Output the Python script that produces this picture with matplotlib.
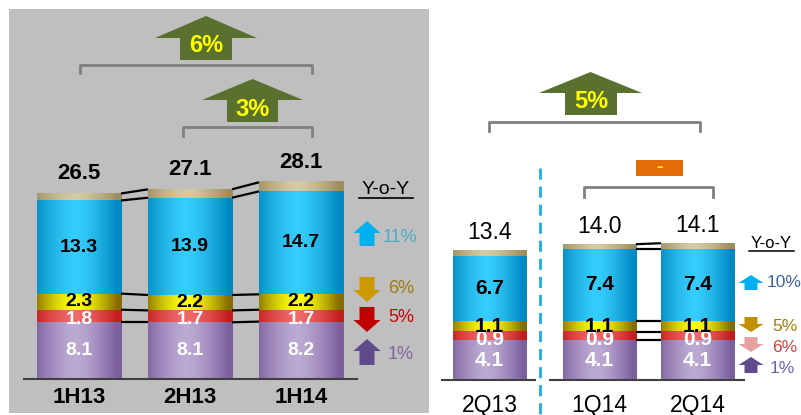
import numpy as np
import matplotlib
matplotlib.use("Agg")
import matplotlib.pyplot as plt
from matplotlib.patches import Polygon, Rectangle
from matplotlib.colors import to_rgb

plt.rcParams['font.family'] = ['Liberation Sans', 'DejaVu Sans']

# half-year data (bottom -> top)
half_labels = ['1H13', '2H13', '1H14']
half_purple = [8.1, 8.1, 8.2]
half_red = [1.8, 1.7, 1.7]
half_yellow = [2.3, 2.2, 2.2]
half_blue = [13.3, 13.9, 14.7]
half_other = [1.0, 1.2, 1.3]
half_total = [26.5, 27.1, 28.1]
half_yoy = ['11%', '6%', '5%', '1%']
half_growth = ['6%', '3%']

# quarter data
q_labels = ['2Q13', '1Q14', '2Q14']
q_purple = [4.1, 4.1, 4.1]
q_red = [0.9, 0.9, 0.9]
q_yellow = [1.1, 1.1, 1.1]
q_blue = [6.7, 7.4, 7.4]
q_other = [0.6, 0.5, 0.6]
q_total = [13.4, 14.0, 14.1]
q_yoy = ['10%', '5%', '6%', '1%']
q_growth = ['5%', '-']

# (edge, centre) colours of the cylinder shading, bottom -> top
shades = [('#7b5f9e', '#bcaad3'),
          ('#c41c1c', '#f06a6a'),
          ('#866c00', '#ffff10'),
          ('#0088c2', '#35cdfb'),
          ('#9c8d5c', '#d3cba4')]
label_colors = ['white', 'white', 'black', 'black']

W, H = 801, 415
fig = plt.figure(figsize=(W / 100, H / 100), dpi=100)


def pix_axes(x0, y0, x1, y1):
    return fig.add_axes([x0 / W, 1 - y1 / H, (x1 - x0) / W, (y1 - y0) / H])


def cylinder(ax, patches, edge, centre):
    e = np.array(to_rgb(edge))
    c = np.array(to_rgb(centre))
    t = np.linspace(-1, 1, 80)
    f = np.clip(1 - np.abs(t + 0.1) ** 1.5, 0, 1)
    img = (e + (c - e) * f[:, None])[None, :, :]
    for p in patches:
        x0, y0 = p.get_x(), p.get_y()
        ax.imshow(img, extent=[x0, x0 + p.get_width(), y0, y0 + p.get_height()],
                  aspect='auto', interpolation='bilinear', zorder=2)


def draw_stack(ax, x, layers, width):
    bottom = np.zeros(len(x))
    tops = []
    for vals, (edge, centre) in zip(layers, shades):
        b = ax.bar(x, vals, width, bottom=bottom, color=centre, linewidth=0, zorder=1)
        cylinder(ax, b.patches, edge, centre)
        bottom = bottom + np.array(vals)
        tops.append(bottom.copy())
    return tops


def connect(ax, x, tops, width, i, j):
    for lev in tops:
        ax.plot([x[i] + width / 2, x[j] - width / 2], [lev[i], lev[j]],
                color='black', lw=1.6, zorder=3, solid_capstyle='butt')


def seg_labels(ax, x, layers, fs, red_shift):
    bottom = np.zeros(len(x))
    for k, vals in enumerate(layers[:4]):
        for xi, b, v in zip(x, bottom, vals):
            y = b + v / 2 - (red_shift if k == 1 else 0)
            ax.text(xi, y, f'{v:.1f}', ha='center', va='center', fontsize=fs,
                    fontweight='bold', color=label_colors[k], zorder=4)
        bottom = bottom + np.array(vals)


# ---------------- left panel (half years) ----------------
axL = pix_axes(9, 9, 429, 413)
axL.set_facecolor('#bfbfbf')
for s in axL.spines.values():
    s.set_visible(False)
axL.set_xticks([])
axL.set_yticks([])
xL = np.arange(3)
wL = 0.757
layersL = [half_purple, half_red, half_yellow, half_blue, half_other]
topsL = draw_stack(axL, xL, layersL, wL)
connect(axL, xL, topsL, wL, 0, 1)
connect(axL, xL, topsL, wL, 1, 2)
seg_labels(axL, xL, layersL, 14, 0.5)
for xi, tot, lab in zip(xL, half_total, half_labels):
    axL.text(xi, tot + 2.8, f'{tot:.1f}', ha='center', va='center',
             fontsize=16, fontweight='bold')
    axL.text(xi, -2.7, lab, ha='center', va='center', fontsize=16, fontweight='bold')
axL.plot([xL[0] - wL / 2 - 0.12, xL[-1] + wL / 2 + 0.13], [0, 0], color='#404040', lw=1.5, zorder=3)
axL.set_xlim((9 - 79) / 111, (429 - 79) / 111)
axL.set_ylim((379 - 413) / 7.0, (379 - 9) / 7.0)

# ---------------- right panel (quarters) ----------------
axR = pix_axes(440, 9, 801, 413)
axR.axis('off')
xR = np.array([0, 1.122, 2.122])
wR = 0.745
layersR = [q_purple, q_red, q_yellow, q_blue, q_other]
topsR = draw_stack(axR, xR, layersR, wR)
connect(axR, xR, topsR, wR, 1, 2)
seg_labels(axR, xR, layersR, 15, 0.35)
for xi, tot, lab in zip(xR, q_total, q_labels):
    axR.text(xi, tot + 1.8, f'{tot:.1f}', ha='center', va='center', fontsize=16.5)
    axR.text(xi, -2.6, lab, ha='center', va='center', fontsize=16.5)
axR.plot([xR[0] - wR / 2 - 0.11, xR[0] + wR / 2 + 0.09], [0, 0], color='#404040', lw=1.5)
axR.plot([xR[1] - wR / 2 - 0.13, xR[2] + wR / 2 + 0.1], [0, 0], color='#404040', lw=1.5)
axR.set_xlim((440 - 489.5) / 98, (801 - 489.5) / 98)
axR.set_ylim((380 - 413) / 9.7, (380 - 9) / 9.7)

# ---------------- annotations (pixel coordinates) ----------------
ov = fig.add_axes([0, 0, 1, 1])
ov.set_xlim(0, W)
ov.set_ylim(H, 0)
ov.axis('off')

GREEN = '#5a702f'
GREY = '#808080'


def big_arrow(xl, xr, ytop, yhead, sxl, sxr, ybot, text, ty):
    pts = [(xl, yhead), ((xl + xr) / 2, ytop), (xr, yhead), (sxr, yhead),
           (sxr, ybot), (sxl, ybot), (sxl, yhead)]
    ov.add_patch(Polygon(pts, closed=True, color=GREEN, lw=0))
    ov.text((sxl + sxr) / 2, ty, text, ha='center', va='center', fontsize=17,
            fontweight='bold', color='#ffff00')


def bracket(x0, x1, ytop, ybot):
    ov.plot([x0, x0, x1, x1], [ybot, ytop, ytop, ybot], color=GREY, lw=2)


def block(xc, ytop, ybot, hw, sw, hl, up, color):
    if up:
        yh = ytop + hl
        pts = [(xc - hw / 2, yh), (xc, ytop), (xc + hw / 2, yh), (xc + sw / 2, yh),
               (xc + sw / 2, ybot), (xc - sw / 2, ybot), (xc - sw / 2, yh)]
    else:
        yh = ybot - hl
        pts = [(xc - hw / 2, yh), (xc, ybot), (xc + hw / 2, yh), (xc + sw / 2, yh),
               (xc + sw / 2, ytop), (xc - sw / 2, ytop), (xc - sw / 2, yh)]
    ov.add_patch(Polygon(pts, closed=True, color=color, lw=0))


# left growth arrows
big_arrow(155, 257, 16, 38, 180, 232, 60, half_growth[0], 45)
bracket(80, 312, 65, 73)
big_arrow(202, 303, 79, 100, 227, 278, 122, half_growth[1], 109)
bracket(183, 312, 127, 136)

# left Y-o-Y legend
ov.text(386, 189, 'Y-o-Y', ha='center', va='center', fontsize=14)
ov.plot([359, 413], [198, 198], color='black', lw=1.2)
arrL = [(221, 246, True, '#00b0f0', '#4bacc6', 237),
        (277, 302, False, '#cc9900', '#a07a10', 288),
        (307, 332, False, '#c00000', '#cc0000', 317),
        (339, 365, True, '#5f4b8b', '#8064a2', 354)]
for (yt, yb, up, ac, tc, ty), lab in zip(arrL, half_yoy):
    block(367, yt, yb, 27, 15, 12, up, ac)
    ov.text(383 if lab == '11%' else 388, ty, lab, ha='left', va='center',
            fontsize=13, color=tc)

# right growth arrows
big_arrow(539, 642, 72, 93, 565, 617, 115, q_growth[0], 101)
bracket(489, 700, 122, 131)
ov.add_patch(Rectangle((636, 160), 47, 16, color='#e36c09', lw=0))
ov.text(659.5, 167, q_growth[1], ha='center', va='center', fontsize=14,
        fontweight='bold', color='#ffff00')
bracket(584, 713, 187, 197)

# divider
ov.plot([540, 540], [168, 415], color='#1aaee5', lw=2, dashes=(4, 2.5))

# right Y-o-Y legend
ov.text(771, 243, 'Y-o-Y', ha='center', va='center', fontsize=12)
ov.plot([749, 794], [251, 251], color='black', lw=1.1)
arrR = [(275, 290, True, '#00b0f0', '#3f62a4', 282, 767),
        (317, 332, False, '#c09000', '#a07a10', 326, 772),
        (337, 352, False, '#e6a0a0', '#d04040', 347, 772),
        (357, 373, True, '#5f4b8b', '#7060b0', 368, 770)]
for (yt, yb, up, ac, tc, ty, tx), lab in zip(arrR, q_yoy):
    block(751, yt, yb, 25, 13, 8, up, ac)
    ov.text(tx, ty, lab, ha='left', va='center', fontsize=12.5, color=tc)

fig.savefig('out.png', dpi=100)
